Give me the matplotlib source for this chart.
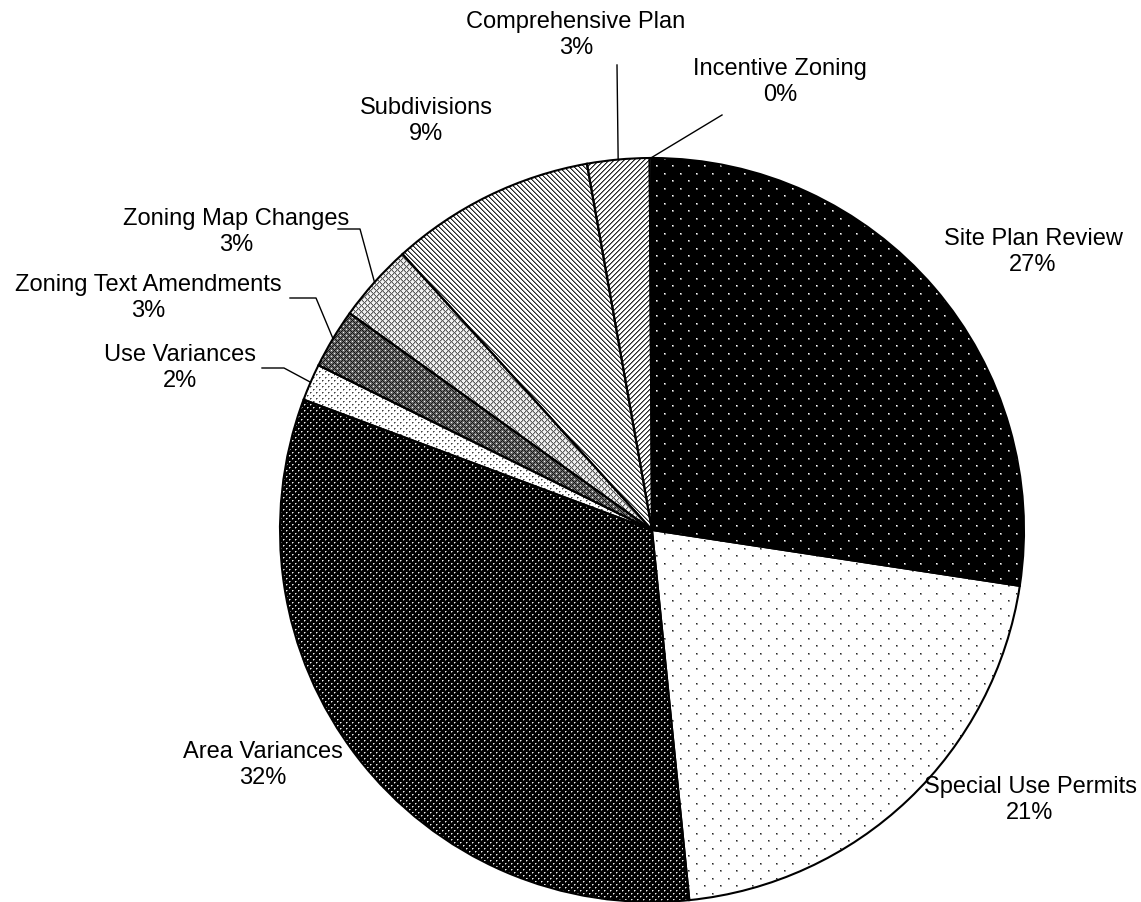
import matplotlib
matplotlib.use("Agg")
import matplotlib.pyplot as plt
import numpy as np

categories = ["Site Plan Review", "Special Use Permits", "Area Variances", "Use Variances",
              "Zoning Text Amendments", "Zoning Map Changes", "Subdivisions",
              "Comprehensive Plan", "Incentive Zoning"]
values = [27.4, 21.0, 32.3, 1.6, 2.6, 3.4, 8.9, 2.7, 0.1]
pattern_names = ["sparse_white_dots", "sparse_black_dots", "dense_white_dots", "dense_gray_dots",
                 "dark_cross", "light_cross", "back_diag", "fwd_diag", "plain"]

plt.rcParams['font.family'] = ['Liberation Sans', 'DejaVu Sans']

W, H = 1141, 902
fig = plt.figure(figsize=(W / 100, H / 100), dpi=100)
cx, cy, R = 652, 530, 372
ax = fig.add_axes([(cx - R) / W, (H - cy - R) / H, 2 * R / W, 2 * R / H])

N = 2 * R
I, J = np.mgrid[0:N, 0:N]


def dot_mask(pi, pj, oi, oj, di=0, dj=0):
    return (((I - di) % pi == 0) & ((J - dj) % pj == 0)) | \
           (((I - di) % pi == oi) & ((J - dj) % pj == oj))


def texture(name):
    img = np.ones((N, N))
    if name == "sparse_white_dots":
        img[:] = 0.0
        for di, dj, val in [(0, 1, 0.55), (1, 0, 0.55), (1, 1, 0.45), (0, 0, 1.0)]:
            img[dot_mask(15, 16, 7, 8, di, dj)] = val
    elif name == "sparse_black_dots":
        for di, dj, val in [(0, 1, 0.55), (1, 0, 0.55), (1, 1, 0.65), (0, 0, 0.15)]:
            img[dot_mask(15, 16, 7, 8, di, dj)] = val
    elif name == "dense_white_dots":
        img[:] = 0.0
        for di, dj, val in [(0, 1, 0.5), (1, 0, 0.45), (0, 0, 0.95)]:
            img[dot_mask(6, 6, 3, 3, di, dj)] = val
    elif name == "dense_gray_dots":
        for di, dj, val in [(0, 1, 0.55), (1, 0, 0.6), (0, 0, 0.25)]:
            img[dot_mask(6, 6, 3, 3, di, dj)] = val
    elif name == "dark_cross":
        img[:] = 0.42
        lines = ((I + J) % 6 == 0) | ((I - J) % 6 == 0)
        img[lines] = 0.08
        img[((I + J) % 6 == 3) & ((I - J) % 6 == 3)] = 0.95
    elif name == "light_cross":
        img[:] = 0.95
        lines = ((I + J) % 6 == 0) | ((I - J) % 6 == 0)
        img[lines] = 0.35
        img[((I + J) % 6 == 1) | ((I - J) % 6 == 1)] = 0.7
    elif name == "back_diag":
        img[(J - I) % 5 == 0] = 0.15
        img[(J - I) % 5 == 1] = 0.5
    elif name == "fwd_diag":
        img[(J + I) % 5 == 0] = 0.15
        img[(J + I) % 5 == 1] = 0.5
    return np.dstack([img, img, img])


wedges, _ = ax.pie(values, startangle=90, counterclock=False, radius=1,
                   wedgeprops=dict(fill=False, edgecolor='none', linewidth=0))
for w, pname in zip(wedges, pattern_names):
    im = ax.imshow(texture(pname), extent=[-1, 1, -1, 1], origin='upper',
                   interpolation='nearest', zorder=0.5)
    im.set_clip_path(w)

wedges2, _ = ax.pie(values, startangle=90, counterclock=False, radius=1,
                    wedgeprops=dict(fill=False, edgecolor='black', linewidth=1.5))
for w in wedges2:
    w.set_zorder(3)

ax.set_xlim(-1, 1)
ax.set_ylim(-1, 1)
ax.set_aspect('equal')
ax.axis('off')


def px(x, y):
    return ((x - cx) / R, (cy - y) / R)


label_pos = {
    "Site Plan Review": (1033, 252),
    "Special Use Permits": (1030, 800),
    "Area Variances": (263, 765),
    "Use Variances": (180, 368),
    "Zoning Text Amendments": (148, 298),
    "Zoning Map Changes": (236, 232),
    "Subdivisions": (426, 121),
    "Comprehensive Plan": (576, 35),
    "Incentive Zoning": (780, 82),
}
leaders = {
    "Use Variances": [(262, 368), (284, 368)],
    "Zoning Text Amendments": [(290, 298), (316, 298)],
    "Zoning Map Changes": [(338, 229), (360, 229)],
    "Comprehensive Plan": [(617, 65)],
    "Incentive Zoning": [(722, 115)],
}

total = sum(values)
cum = 0
for cat, v in zip(categories, values):
    mid = cum + v / 2
    cum += v
    theta = np.deg2rad(90 - 360 * mid / total)
    pct = f"{round(100 * v / total):d}%"
    tx, ty = px(*label_pos[cat])
    ax.text(tx, ty, f"{cat}\n{pct}", ha='center', va='center', fontsize=17,
            linespacing=1.2, clip_on=False, zorder=5)
    if cat in leaders:
        pts = [px(*p) for p in leaders[cat]] + [(np.cos(theta), np.sin(theta))]
        xs, ys = zip(*pts)
        ax.plot(xs, ys, color='black', linewidth=1.0, clip_on=False, zorder=4)

fig.savefig("out.png", dpi=100)
